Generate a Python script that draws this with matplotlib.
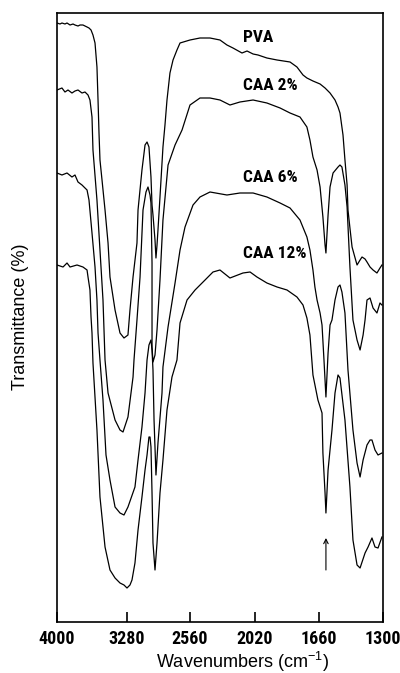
import numpy as np
import matplotlib
matplotlib.use("Agg")
import matplotlib.pyplot as plt
from matplotlib.scale import FuncScale

plt.rcParams['mathtext.fontset'] = 'custom'
plt.rcParams['mathtext.rm'] = 'Liberation Sans'
plt.rcParams['mathtext.it'] = 'Liberation Sans'

# ---------------- data (wavenumber cm-1, transmittance, arbitrary offset units) -------------
pva_wn = [4000, 3969, 3949, 3918, 3897, 3866, 3835, 3815, 3784, 3763, 3733, 3712, 3691, 3671, 3650,
          3630, 3609, 3589, 3578, 3568, 3558, 3537, 3506, 3475, 3455, 3403, 3352, 3311, 3269, 3246,
          3211, 3166, 3154, 3109, 3074, 3051, 3029, 3006, 2994, 2983, 2960, 2949, 2937, 2926, 2903,
          2869, 2846, 2823, 2789, 2754, 2709, 2674, 2560, 2477, 2394, 2311, 2253, 2203, 2128, 2086,
          2036, 2003, 1953, 1896, 1823, 1784, 1750, 1728, 1694, 1654, 1626, 1598, 1570, 1553, 1542,
          1525, 1514, 1502, 1497, 1486, 1474, 1457, 1446, 1429, 1418, 1401, 1390, 1373, 1356, 1334,
          1317, 1306]
pva_t = [599, 598, 599, 598, 599, 597, 598, 597, 596, 597, 597, 596, 595, 594, 592,
         587, 579, 555, 522, 489, 462, 442, 412, 379, 345, 312, 289, 284, 287, 312,
         345, 379, 412, 452, 477, 480, 475, 445, 417, 407, 382, 364, 377, 392, 425,
         475, 497, 522, 549, 562, 572, 579, 582, 584, 584, 582, 577, 574, 569, 571,
         568, 567, 564, 562, 560, 555, 547, 544, 541, 538, 534, 529, 522, 515, 509,
         487, 462, 437, 412, 394, 375, 364, 357, 362, 365, 363, 360, 355, 352, 349,
         354, 357]

caa2_wn = [4000, 3949, 3918, 3887, 3846, 3815, 3784, 3743, 3712, 3681, 3661, 3640, 3630, 3589, 3558,
           3527, 3506, 3475, 3403, 3352, 3321, 3269, 3211, 3200, 3166, 3131, 3097, 3063, 3040, 3017,
           3006, 2994, 2994, 2994, 2983, 2960, 2937, 2903, 2869, 2811, 2731, 2651, 2560, 2477, 2394,
           2311, 2228, 2145, 2036, 1953, 1879, 1823, 1767, 1728, 1711, 1694, 1671, 1654, 1638, 1626,
           1621, 1609, 1598, 1581, 1553, 1542, 1531, 1514, 1502, 1486, 1469, 1446, 1429, 1412, 1401,
           1390, 1373, 1356, 1334, 1317, 1306]
caa2_t = [532, 534, 530, 532, 529, 531, 532, 529, 530, 527, 522, 505, 472, 422, 372,
          322, 262, 229, 202, 192, 190, 205, 245, 262, 302, 345, 412, 430, 435, 427,
          419, 359, 292, 275, 260, 267, 292, 342, 402, 457, 477, 492, 517, 524, 524,
          522, 517, 520, 522, 519, 514, 509, 505, 495, 482, 465, 452, 435, 405, 377,
          369, 407, 435, 449, 455, 457, 455, 437, 415, 355, 302, 282, 272, 287, 302,
          322, 324, 314, 309, 319, 317]

caa6_wn = [4000, 3949, 3897, 3846, 3815, 3784, 3743, 3712, 3691, 3671, 3640, 3609, 3589, 3578, 3558,
           3527, 3496, 3455, 3403, 3352, 3311, 3269, 3189, 3154, 3109, 3074, 3051, 3029, 3006, 2994,
           2983, 2971, 2949, 2926, 2880, 2869, 2811, 2731, 2674, 2617, 2535, 2477, 2394, 2253, 2145,
           2036, 1953, 1879, 1823, 1767, 1728, 1711, 1694, 1683, 1671, 1654, 1643, 1632, 1621, 1609,
           1598, 1587, 1570, 1553, 1542, 1531, 1514, 1497, 1469, 1446, 1429, 1412, 1390, 1373, 1362,
           1345, 1328, 1306]
caa6_t = [449, 447, 449, 445, 447, 440, 437, 434, 432, 422, 389, 355, 322, 289, 262,
          222, 167, 142, 115, 109, 107, 115, 135, 162, 195, 229, 262, 277, 282, 272,
          252, 202, 147, 179, 229, 255, 295, 339, 372, 395, 417, 425, 430, 427, 429,
          429, 425, 419, 414, 402, 385, 372, 352, 335, 322, 309, 297, 262, 225, 269,
          297, 302, 322, 335, 337, 330, 309, 252, 192, 159, 145, 162, 177, 182, 182,
          172, 167, 169]

caa12_wn = [4000, 3938, 3897, 3866, 3794, 3733, 3691, 3681, 3661, 3650, 3640, 3630, 3589, 3558, 3506,
            3455, 3403, 3352, 3311, 3280, 3246, 3223, 3189, 3154, 3109, 3074, 3051, 3029, 3017, 3006,
            2994, 2983, 2960, 2937, 2903, 2869, 2823, 2766, 2709, 2674, 2594, 2518, 2435, 2369, 2311,
            2228, 2120, 2061, 2009, 1953, 1896, 1840, 1784, 1750, 1728, 1711, 1694, 1666, 1643, 1638,
            1626, 1621, 1609, 1587, 1570, 1553, 1542, 1514, 1486, 1469, 1446, 1429, 1401, 1384, 1362,
            1345, 1328, 1306]
caa12_t = [357, 355, 359, 355, 357, 355, 352, 345, 332, 305, 289, 259, 192, 125, 75,
           52, 44, 39, 37, 34, 37, 42, 59, 92, 125, 152, 167, 185, 185, 175,
           129, 79, 52, 79, 129, 162, 212, 245, 262, 299, 322, 332, 342, 350, 352,
           344, 349, 350, 345, 339, 335, 332, 325, 317, 304, 287, 247, 222, 209, 169,
           129, 109, 152, 192, 229, 247, 244, 202, 135, 82, 57, 54, 69, 75, 84,
           75, 74, 85]

series_labels = ["PVA", "CAA 2%", "CAA 6%", "CAA 12%"]
label_wn = 2120
label_t = [584, 537, 445, 369]

tick_wn = [4000, 3280, 2560, 2020, 1660, 1300]
arrow_wn = 1621
arrow_t = (52, 84)

# ---------------- non-uniform spectrometer scale (breakpoints at tick marks) ----------------
scale_wn = [1300, 1660, 2020, 2560, 3280, 4000]
scale_pos = [0, 64, 128, 193, 256, 326]


def fwd(x):
    return np.interp(x, scale_wn, scale_pos)


def inv(u):
    return np.interp(u, scale_pos, scale_wn)


COND = ["Roboto Condensed", "DejaVu Sans"]

fig = plt.figure(figsize=(4.0, 6.73), dpi=100)
ax = fig.add_axes([57 / 400, 51 / 673, 326 / 400, 609 / 673])
ax.set_xscale(FuncScale(ax, (fwd, inv)))

for wn, t in [(pva_wn, pva_t), (caa2_wn, caa2_t), (caa6_wn, caa6_t), (caa12_wn, caa12_t)]:
    ax.plot(wn, t, color="black", lw=0.9, solid_joinstyle="round")

ax.set_xlim(4000, 1300)
ax.set_ylim(0, 609)

ax.set_xticks(tick_wn)
ax.set_xticklabels([str(v) for v in tick_wn])
ax.set_yticks([])
ax.tick_params(axis="x", direction="in", length=7, width=1.2, pad=6, top=False)
for lab in ax.get_xticklabels():
    lab.set_family(COND)
    lab.set_fontweight("bold")
    lab.set_fontstretch("condensed")
    lab.set_fontsize(13)
for sp in ax.spines.values():
    sp.set_linewidth(1.2)

for s, t in zip(series_labels, label_t):
    ax.text(label_wn, t, s, ha="left", va="center", fontsize=12.5,
            family=COND, fontweight="bold", fontstretch="condensed")

ax.annotate("", xy=(arrow_wn, arrow_t[1]), xytext=(arrow_wn, arrow_t[0]),
            arrowprops=dict(arrowstyle="->", lw=0.8, color="black",
                            shrinkA=0, shrinkB=0, mutation_scale=8))

fig.text(242 / 400, 1 - 662 / 673, "Wavenumbers (cm$^{-1}$)", ha="center", va="center",
         fontsize=13, family="Liberation Sans")
fig.text(21 / 400, 1 - 317 / 673, "Transmittance (%)", ha="center", va="center",
         rotation=90, fontsize=13, family="Liberation Sans")

fig.savefig("out.png", dpi=100, facecolor="white")
